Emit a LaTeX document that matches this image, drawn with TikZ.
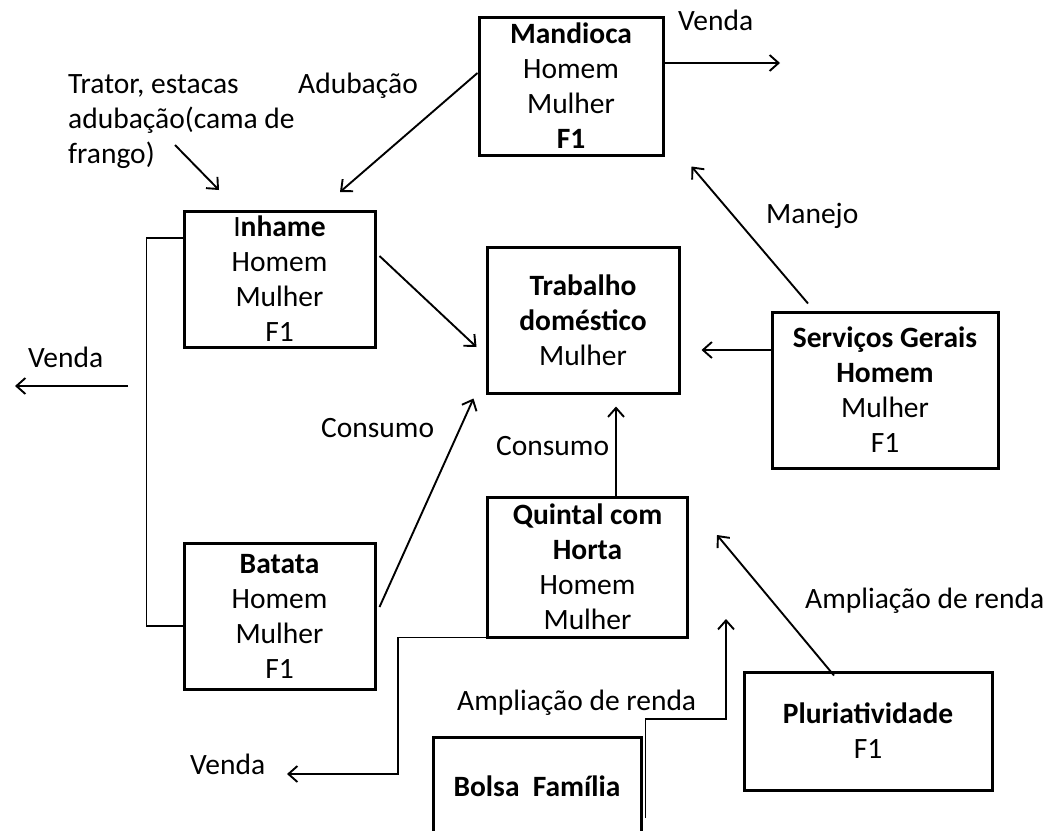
\documentclass[tikz,border=0pt]{standalone}
\usepackage{fontspec}
\setmainfont{Carlito}
\usetikzlibrary{arrows.meta,calc}
\tikzset{
  box/.style={draw, line width=3pt, align=center, inner sep=0pt, font=\fontsize{29.5}{35}\selectfont},
  lbl/.style={anchor=base west, inner sep=0pt, font=\fontsize{29.5}{35}\selectfont},
  arr/.style={line width=1.9pt, -{Straight Barb[length=9pt,width=16pt,line width=1.9pt]}},
  ln/.style={line width=1.9pt}
}
\begin{document}
\begin{tikzpicture}[x=1pt,y=-1pt]
\useasboundingbox (0,0) rectangle (1046,830);
\clip (0,0) rectangle (1046,830);
% boxes
\node[box, minimum width=184pt, minimum height=138pt] (mand) at (571,86) {\textbf{Mandioca}\\Homem\\Mulher\\\textbf{F1}};
\node[box, minimum width=191pt, minimum height=136pt] (inh) at (279.5,279) {I\textbf{nhame}\\Homem\\Mulher\\F1};
\node[box, minimum width=192pt, minimum height=146pt] (trab) at (583,320) {\textbf{Trabalho}\\\textbf{doméstico}\\Mulher};
\node[box, minimum width=226pt, minimum height=156pt] (serv) at (885,390) {\textbf{Serviços Gerais}\\\textbf{Homem}\\Mulher\\F1};
\node[box, minimum width=191pt, minimum height=146pt] (bat) at (279.5,616) {\textbf{Batata}\\Homem\\Mulher\\F1};
\node[box, minimum width=200pt, minimum height=140pt] (quin) at (587.5,567) {\textbf{Quintal com}\\\textbf{Horta}\\Homem\\Mulher};
\node[box, minimum width=248pt, minimum height=118pt] (pluri) at (868,731) {\textbf{Pluriatividade}\\F1};
\node[box, minimum width=208pt, minimum height=98pt] (bolsa) at (537,786) {\textbf{Bolsa~~Família}};
% labels
\node[lbl] (l1) at (678,30) {Venda};
\node[lbl] (l2) at (298,93) {Adubação};
\node[lbl] (l3) at (68,93) {Trator, estacas};
\node[lbl] (l4) at (68,128) {adubação(cama de};
\node[lbl] (l5) at (68,163) {frango)};
\node[lbl] (l6) at (28,367) {Venda};
\node[lbl] (l7) at (321,437) {Consumo};
\node[lbl] (l8) at (496,455) {Consumo};
\node[lbl] (l9) at (766,223) {Manejo};
\node[lbl] (l10) at (805,608) {Ampliação de renda};
\node[lbl] (l11) at (457,710) {Ampliação de renda};
\node[lbl] (l12) at (190,774) {Venda};
% free ends
\coordinate (vendaT) at (780,63);
\coordinate (adubEnd) at (340,192);
\coordinate (tratS) at (175,145);
\coordinate (tratE) at (219,190);
\coordinate (vendaLs) at (128,386);
\coordinate (vendaLe) at (15,386);
\coordinate (vendaB) at (287,774);
\coordinate (pluriEnd) at (717,535);
\coordinate (bolsaEnd) at (726,619);
% connectors
\draw[arr] ($(mand.east)+(0,-23)$) -- (vendaT);
\draw[arr] ($(mand.west)+(0,-13)$) -- (adubEnd);
\draw[arr] (tratS) -- (tratE);
\draw[ln] ($(inh.west)+(0,-41)$) -- ++(-36,0) |- ($(bat.west)+(0,10)$);
\draw[arr] (vendaLs) -- (vendaLe);
\draw[arr] ($(inh.east)+(3,-23)$) -- ($(trab.west)+(-9,27)$);
\draw[arr] ($(bat.east)+(3,-9)$) -- ($(trab.south west)+(-12,4)$);
\draw[arr] ($(serv.west)+(0,-40)$) -- ($(trab.east)+(21,30)$);
\draw[arr] ($(serv.north)+(-77,-7)$) -- ($(mand.south east)+(27,10)$);
\draw[arr] ($(quin.north)+(28.5,0)$) -- ($(trab.south)+(33,12)$);
\draw[arr] ($(quin.south west)+(0,-1)$) -- ++(-88,0) |- (vendaB);
\draw[arr] ($(pluri.north)+(-34,5)$) -- (pluriEnd);
\draw[arr] ($(bolsa.east)+(3,32)$) -- ++(0,-99) -| (bolsaEnd);
\end{tikzpicture}
\end{document}
